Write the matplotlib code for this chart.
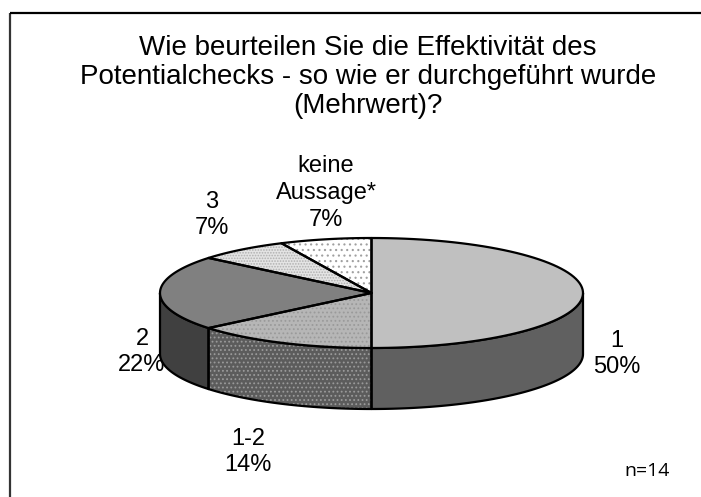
import numpy as np
import matplotlib
matplotlib.use("Agg")
import matplotlib.pyplot as plt
from matplotlib.patches import Polygon

# ---- data ----
categories = ["1", "1-2", "2", "3", "keine\nAussage*"]
values = [50, 14, 22, 7, 7]
title = "Wie beurteilen Sie die Effektivität des\nPotentialchecks - so wie er durchgeführt wurde\n(Mehrwert)?"
note = "n=14"

# ---- styles ----
top_colors = ["#C0C0C0", "#B6B6B6", "#808080", "#E4E4E4", "#FFFFFF"]
side_colors = ["#606060", "#5C5C5C", "#404040", "#707070", "#808080"]
hatches = [None, "....", None, "......", "..."]
hatch_cols = [None, "#9A9A9A", None, "#B0B0B0", "#A0A0A0"]
label_pos = [(617, 354), (248, 452), (142, 352), (212, 215), (326, 193)]

plt.rcParams['font.family'] = ['Liberation Sans', 'DejaVu Sans']
plt.rcParams['hatch.linewidth'] = 0.8

fig = plt.figure(figsize=(7.01, 4.97), dpi=100)
ax = fig.add_axes([0, 0, 1, 1])
ax.set_xlim(0, 701)
ax.set_ylim(497, 0)
ax.axis('off')

# frame (left and top visible)
ax.plot([10, 10], [497, 12.5], color="#333333", lw=1.6, solid_capstyle='butt')
ax.plot([10, 701], [12.5, 12.5], color="black", lw=1.6, solid_capstyle='butt')

cx, cy, rx, ry, depth = 371.5, 293.0, 211.5, 55.0, 61.0

def pt(theta_deg, dz=0.0):
    t = np.radians(theta_deg)
    return cx + rx * np.cos(t), cy - ry * np.sin(t) + dz

def arc(a0, a1, dz=0.0, n=80):
    ts = np.linspace(a0, a1, n)
    return [pt(t, dz) for t in ts]

total = float(sum(values))
starts = []
a = 90.0
for v in values:
    a_end = a - 360.0 * v / total
    starts.append((a, a_end))
    a = a_end

def draw_poly(pts, face, hatch, hcol, z):
    if hatch:
        ax.add_patch(Polygon(pts, closed=True, facecolor=face, edgecolor=hcol,
                             hatch=hatch, lw=0, zorder=z))
    else:
        ax.add_patch(Polygon(pts, closed=True, facecolor=face, edgecolor='none', zorder=z))
    ax.add_patch(Polygon(pts, closed=True, fill=False, edgecolor='black', lw=1.6,
                         joinstyle='round', zorder=z + 0.5))

# side walls (front visible part: angles in [-180, 0] modulo 360)
for i, (a0, a1) in enumerate(starts):
    hi, lo = a0, a1
    for k in (-1, 0, 1):
        s_lo = max(lo, -180 + 360 * k)
        s_hi = min(hi, 0 + 360 * k)
        if s_hi > s_lo + 1e-6:
            top = arc(s_hi, s_lo)
            bot = arc(s_lo, s_hi, dz=depth)
            draw_poly(top + bot, side_colors[i], hatches[i], hatch_cols[i], 2)

# top faces
for i, (a0, a1) in enumerate(starts):
    pts = [(cx, cy)] + arc(a0, a1)
    draw_poly(pts, top_colors[i], hatches[i], hatch_cols[i], 4)

# labels
for i, (cat, v) in enumerate(zip(categories, values)):
    x, y = label_pos[i]
    ax.text(x, y, f"{cat}\n{v}%", ha='center', va='center', fontsize=17,
            linespacing=1.28, zorder=10)

ax.text(368, 77, title, ha='center', va='center', fontsize=20, linespacing=1.15, zorder=10)
ax.text(647, 471, note, ha='center', va='center', fontsize=14,
        family=['Open Sans', 'DejaVu Sans'], zorder=10)

fig.savefig("out.png", dpi=100)
